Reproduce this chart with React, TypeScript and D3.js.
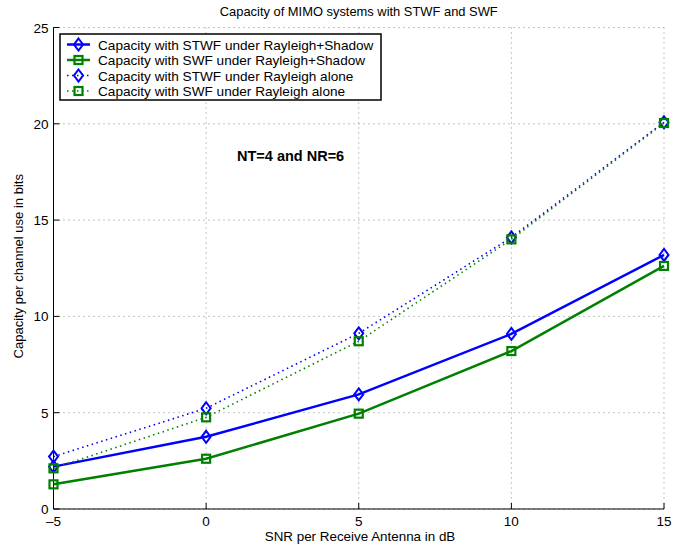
import React from "react";
import * as d3 from "d3";

const snr = [-5, 0, 5, 10, 15];
const stwfShadow = [2.2, 3.75, 5.95, 9.09, 13.19];
const swfShadow = [1.28, 2.61, 4.95, 8.2, 12.62];
const stwfRayleigh = [2.72, 5.23, 9.12, 14.1, 20.08];
const swfRayleigh = [2.11, 4.76, 8.71, 14.0, 20.04];
const xTicks = [-5, 0, 5, 10, 15];
const yTicks = [0, 5, 10, 15, 20, 25];
const legendLabels = [
  "Capacity with STWF under Rayleigh+Shadow",
  "Capacity with SWF under Rayleigh+Shadow",
  "Capacity with STWF under Rayleigh alone",
  "Capacity with SWF under Rayleigh alone",
];

const W = 694, H = 548;
const m = { left: 53.5, right: 664, top: 27.5, bottom: 509 };
const font = "Liberation Sans, Arial, Helvetica, sans-serif";
const BLUE = "#0000ff";
const GREEN = "#008000";

type S = { vals: number[]; color: string; dotted: boolean; marker: "d" | "s"; label: string };
const series: S[] = [
  { vals: stwfShadow, color: BLUE, dotted: false, marker: "d", label: legendLabels[0] },
  { vals: swfShadow, color: GREEN, dotted: false, marker: "s", label: legendLabels[1] },
  { vals: stwfRayleigh, color: BLUE, dotted: true, marker: "d", label: legendLabels[2] },
  { vals: swfRayleigh, color: GREEN, dotted: true, marker: "s", label: legendLabels[3] },
];

function Marker({ type, x, y, color }: { type: "d" | "s"; x: number; y: number; color: string }) {
  if (type === "d") {
    const w = 4.5, h = 6;
    return (
      <path
        d={`M${x},${y - h}L${x + w},${y}L${x},${y + h}L${x - w},${y}Z`}
        fill="none"
        stroke={color}
        strokeWidth={2}
      />
    );
  }
  const s = 4;
  return <rect x={x - s} y={y - s} width={2 * s} height={2 * s} fill="none" stroke={color} strokeWidth={2.2} />;
}

export default function App() {
  const x = d3.scaleLinear().domain([-5, 15]).range([m.left, m.right]);
  const y = d3.scaleLinear().domain([0, 25]).range([m.bottom, m.top]);
  const line = d3
    .line<number>()
    .x((_, i) => x(snr[i]))
    .y((d) => y(d));

  const legX = 60, legY = 34, legW = 321, legH = 66;
  const rowY = (i: number) => legY + 10.5 + i * 15.5;

  return (
    <svg width={W} height={H} style={{ position: "absolute", left: 0, top: 0, background: "#fff" }} fontFamily={font}>
      <rect x={0} y={0} width={W} height={H} fill="#fff" />
      {xTicks.map((t) => (
        <line key={"gx" + t} x1={x(t)} x2={x(t)} y1={m.top} y2={m.bottom} stroke="#888" strokeWidth={1} strokeDasharray="1,4" />
      ))}
      {yTicks.map((t) => (
        <line key={"gy" + t} x1={m.left} x2={m.right} y1={y(t)} y2={y(t)} stroke="#888" strokeWidth={1} strokeDasharray="1,4" />
      ))}
      <line x1={m.left} x2={m.left} y1={m.top} y2={m.bottom} stroke="#000" strokeWidth={1} />
      <line x1={m.left} x2={m.right} y1={m.bottom} y2={m.bottom} stroke="#000" strokeWidth={1} />
      {xTicks.map((t) => (
        <g key={"tx" + t}>
          <line x1={x(t)} x2={x(t)} y1={m.bottom} y2={m.bottom - 6} stroke="#000" />
          <text x={x(t)} y={m.bottom + 17} textAnchor="middle" fontSize={13.5}>
            {t < 0 ? "\u2013" + Math.abs(t) : t}
          </text>
        </g>
      ))}
      {yTicks.map((t) => (
        <g key={"ty" + t}>
          <line x1={m.left} x2={m.left + 6} y1={y(t)} y2={y(t)} stroke="#000" />
          <text x={m.left - 5} y={y(t) + 5} textAnchor="end" fontSize={13.5}>
            {t}
          </text>
        </g>
      ))}
      {series.map((s, si) => (
        <g key={"s" + si}>
          <path
            d={line(s.vals) || ""}
            fill="none"
            stroke={s.color}
            strokeWidth={s.dotted ? 1.6 : 2.5}
            strokeDasharray={s.dotted ? "1.5,3.5" : undefined}
          />
          {s.vals.map((v, i) => (
            <Marker key={i} type={s.marker} x={x(snr[i])} y={y(v)} color={s.color} />
          ))}
        </g>
      ))}
      <rect x={legX} y={legY} width={legW} height={legH} fill="#fff" stroke="#000" strokeWidth={1.5} />
      {series.map((s, i) => (
        <g key={"l" + i}>
          <line
            x1={67}
            x2={90}
            y1={rowY(i)}
            y2={rowY(i)}
            stroke={s.color}
            strokeWidth={s.dotted ? 1.6 : 2.5}
            strokeDasharray={s.dotted ? "1.5,3.5" : undefined}
          />
          <Marker type={s.marker} x={78.5} y={rowY(i)} color={s.color} />
          <text x={98} y={rowY(i) + 5} fontSize={13.6}>
            {s.label}
          </text>
        </g>
      ))}
      <text x={237} y={161} fontSize={14.5} fontWeight="bold">NT=4 and NR=6</text>
      <text x={(m.left + m.right) / 2} y={16} textAnchor="middle" fontSize={12.9}>
        Capacity of MIMO systems with STWF and SWF
      </text>
      <text x={360} y={541} textAnchor="middle" fontSize={13.4}>
        SNR per Receive Antenna in dB
      </text>
      <text
        transform={`translate(23,${(m.top + m.bottom) / 2 - 2}) rotate(-90)`}
        textAnchor="middle"
        fontSize={13}
      >
        Capacity per channel use in bits
      </text>
    </svg>
  );
}
